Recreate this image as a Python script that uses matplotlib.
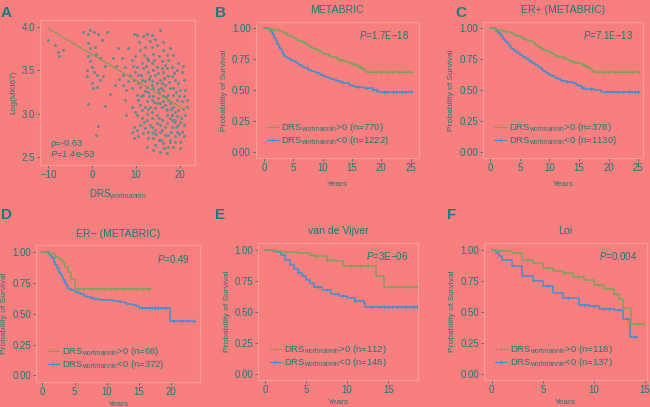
import numpy as np
import matplotlib
matplotlib.use('Agg')
import matplotlib.pyplot as plt
from matplotlib.lines import Line2D

plt.rcParams['font.family'] = ['Liberation Sans', 'DejaVu Sans']
plt.rcParams['mathtext.fontset'] = 'custom'
plt.rcParams['mathtext.rm'] = 'Liberation Sans'
plt.rcParams['mathtext.it'] = 'Liberation Sans:italic'

BG = '#F7807F'
TXT = '#167B7A'
FRAME = '#F59C9A'
GREEN = '#7AA35A'
BLUE = '#3E8FD2'
DOT = '#6A8A90'

################ Data ################
# Panel A: scatter of DRS_wortmannin vs Log(MKI67)
drs = [-10.0, -8.5, -7.9, -7.5, -6.6, -2.0, -0.9, -0.5, 0.5, 1.4, 3.4, -0.9, -0.5, 0.6, 0.9,
       -0.9, 1.8, 0.0, -1.1, 0.4, -1.1, -0.1, 0.1, 1.0, 1.8, 2.5, -0.9, 1.2, 0.9, 2.9,
       4.0, 5.2, 4.8, 5.9, 6.7, 7.5, 8.2, 9.0, 9.4, 10.1, 11.6, 12.4, 13.5, 15.4, 10.9,
       12.0, 13.5, 14.7, 16.2, 17.0, 18.5, 9.7, 10.1, 11.3, 12.4, 13.9, 15.1, 15.8, 16.6, 17.3,
       18.1, 19.2, 20.4, 21.1, 21.5, 20.0, 18.9, 17.3, 16.2, 14.7, 13.5, 11.6, 10.5, 9.4, 8.2,
       7.1, 7.8, 9.0, 10.1, 10.9, 12.0, 13.2, 14.3, 15.4, 16.6, 17.7, 18.5, 19.2, 20.4, 19.6,
       18.5, 17.3, 16.2, 15.1, 13.9, 12.8, 11.6, 10.5, 12.4, 13.5, 14.7, 15.8, 17.0, 18.1, 18.9,
       20.0, 20.8, 20.4, 19.2, 18.1, 17.0, 15.8, 14.7, 13.5, 12.4, 11.3, 10.1, 9.0, 7.8, 7.5,
       9.4, 10.9, 12.0, 13.2, 14.3, 15.4, 16.6, 17.7, 18.9, 20.0, 17.3, 16.2, 15.1, 13.9, 12.8,
       11.6, 10.5, 9.4, 12.4, 13.9, 15.4, 17.0, 18.5, 20.0, 14.3, 17.7, 18.9, 16.6, 15.4, 15.1,
       13.9, 16.2, 17.3, 19.6, 20.8, 18.1, 17.0, 15.8, 13.9, 12.8, 14.7, 13.5, 12.4, 11.3, 15.4,
       16.6, 17.7, 18.9, 14.3, 13.2, 12.0, 10.9, 9.7, 17.0, 18.1, 19.6, 20.8, 21.5, 21.1, 12.4,
       13.5, 14.7, 15.8, 11.3, 10.1, 9.0, 12.8, 13.9,
       11.0, 12.2, 13.0, 14.0, 14.9, 15.6, 16.4, 17.5, 18.3, 19.0, 19.8, 20.6, 19.4, 18.6, 17.6,
       16.8, 16.0, 15.0, 14.0, 13.0, 12.0, 11.0, 10.4, 9.8, 9.2, 8.6, 11.8, 12.6, 13.6, 14.6,
       15.6, 16.4, 17.2, 18.0, 19.0, 19.8, 20.2, 17.9, 16.9, 15.9, 14.9, 13.7, 12.7, 11.7, 10.6,
       13.1, 14.2, 16.0, 17.6, 19.5, 20.7, 21.0, 18.7, 7.0, 6.2, 5.5, 3.0, 2.2, 1.0, -0.5]
mki67 = [3.85, 3.79, 3.71, 3.66, 3.73, 3.94, 3.92, 3.96, 3.94, 3.92, 3.94, 3.81, 3.75, 3.77, 3.69,
         3.66, 3.64, 3.54, 3.50, 3.48, 3.43, 3.35, 3.29, 3.31, 3.39, 3.43, 3.11, 2.86, 2.76, 3.09,
         3.23, 3.33, 3.64, 3.75, 3.64, 3.54, 3.75, 3.62, 3.92, 3.90, 3.89, 3.92, 3.90, 3.96, 3.73,
         3.77, 3.77, 3.79, 3.73, 3.67, 3.67, 3.66, 3.54, 3.58, 3.64, 3.69, 3.66, 3.60, 3.56, 3.62,
         3.54, 3.50, 3.48, 3.27, 3.08, 3.27, 3.39, 3.43, 3.48, 3.54, 3.58, 3.52, 3.45, 3.39, 3.37,
         3.33, 3.27, 3.29, 3.22, 3.31, 3.37, 3.43, 3.45, 3.39, 3.33, 3.29, 3.22, 3.16, 3.14, 3.04,
         3.08, 3.16, 3.20, 3.25, 3.29, 3.25, 3.22, 3.16, 3.14, 3.16, 3.12, 3.08, 3.04, 2.99, 2.93,
         2.91, 2.87, 2.79, 2.79, 2.85, 2.89, 2.93, 2.99, 3.02, 3.00, 3.04, 2.99, 3.08, 2.99, 3.16,
         2.85, 2.87, 2.83, 2.87, 2.81, 2.79, 2.76, 2.70, 2.74, 2.68, 2.62, 2.66, 2.70, 2.72, 2.72,
         2.78, 2.74, 2.72, 2.62, 2.58, 2.56, 2.55, 2.62, 2.60, 2.64, 2.68, 2.67, 2.85, 2.87, 2.95,
         3.20, 3.27, 3.22, 3.35, 3.39, 3.43, 3.52, 3.52, 3.50, 3.48, 3.35, 3.33, 3.31, 3.39, 3.12,
         3.10, 3.12, 3.02, 3.06, 3.08, 3.08, 3.10, 3.02, 2.99, 2.93, 2.87, 2.74, 3.16, 2.99, 2.93,
         2.95, 2.89, 2.81, 2.95, 2.81, 2.79, 2.79, 2.78,
         3.45, 3.55, 3.40, 3.62, 3.47, 3.30, 3.41, 3.36, 3.30, 3.25, 3.20, 3.05, 2.97, 2.90, 2.95,
         3.05, 3.14, 3.18, 3.13, 3.20, 3.26, 3.20, 3.35, 3.48, 3.55, 3.45, 2.90, 3.05, 2.85, 2.77,
         2.70, 2.60, 2.75, 2.79, 2.85, 2.77, 2.95, 3.05, 3.19, 3.35, 3.28, 3.38, 3.62, 3.68, 3.82,
         3.84, 3.86, 3.82, 3.76, 3.58, 3.55, 3.20, 3.47, 3.45, 3.40, 3.55, 3.55, 3.85, 3.45, 3.60]
fit_x = [-10, 21]
fit_y = [3.98, 3.05]

# Kaplan-Meier curves: (times, survival) for DRS>0 (hi) and DRS<0 (lo), censor times (c)
b_hi_t = [0, 0.5, 1, 1.5, 2, 2.5, 3, 3.5, 4, 4.5, 5, 5.5, 6, 6.5, 7, 7.5, 8, 8.5, 9, 9.5, 10,
          10.5, 11, 11.5, 12, 12.5, 13, 13.5, 14, 14.5, 15, 15.5, 16, 16.5, 17, 17.3, 25.2]
b_hi_s = [1.0, 1.0, 0.995, 0.99, 0.985, 0.98, 0.973, 0.962, 0.95, 0.935, 0.92, 0.91, 0.9, 0.89,
          0.878, 0.86, 0.843, 0.835, 0.825, 0.81, 0.797, 0.79, 0.78, 0.772, 0.765, 0.755, 0.743,
          0.737, 0.73, 0.723, 0.716, 0.703, 0.689, 0.678, 0.66, 0.649, 0.649]
b_hi_c = [13, 15, 16.5, 18, 19, 20, 21, 22, 23, 24, 25]
b_lo_t = [0, 0.5, 1, 1.25, 1.5, 1.75, 2, 2.25, 2.5, 2.75, 3, 3.25, 3.5, 3.75, 4, 4.5, 5, 5.5, 6,
          6.5, 7, 7.5, 8, 8.5, 9, 9.5, 10, 10.5, 11, 11.5, 12, 12.5, 13, 13.5, 14, 14.5, 15, 15.5,
          16, 17, 18.5, 19.5, 25.2]
b_lo_s = [1.0, 1.0, 0.99, 0.97, 0.95, 0.925, 0.9, 0.875, 0.85, 0.83, 0.81, 0.795, 0.78, 0.768,
          0.757, 0.745, 0.735, 0.72, 0.705, 0.69, 0.676, 0.666, 0.657, 0.647, 0.636, 0.625, 0.614,
          0.606, 0.598, 0.59, 0.581, 0.573, 0.565, 0.56, 0.554, 0.543, 0.532, 0.528, 0.525, 0.52,
          0.505, 0.484, 0.484]
b_lo_c = [16, 17.5, 18.5, 19, 20.5, 21, 22, 22.5, 23.5, 24, 25]

c_hi_t = [0, 0.5, 1, 1.5, 2, 2.5, 3, 3.5, 4, 4.5, 5, 5.5, 6, 6.5, 7, 7.5, 8, 8.5, 9, 9.5, 10,
          10.5, 11, 11.5, 12, 12.5, 13, 13.5, 14, 14.5, 15, 15.5, 16, 16.5, 17, 17.3, 25.2]
c_hi_s = [1.0, 1.0, 0.99, 0.985, 0.98, 0.975, 0.968, 0.96, 0.95, 0.94, 0.927, 0.916, 0.905, 0.896,
          0.887, 0.867, 0.847, 0.836, 0.825, 0.815, 0.806, 0.793, 0.78, 0.772, 0.765, 0.755, 0.745,
          0.738, 0.73, 0.724, 0.718, 0.706, 0.694, 0.682, 0.665, 0.651, 0.651]
c_hi_c = [14, 16, 18, 19, 20, 21, 22, 23, 24, 25]
c_lo_t = [0, 1, 1.25, 1.5, 1.75, 2, 2.25, 2.5, 2.75, 3, 3.25, 3.5, 3.75, 4, 4.5, 5, 5.5, 6, 6.5,
          7, 7.5, 8, 8.5, 9, 9.5, 10, 10.5, 11, 11.5, 12, 12.5, 13, 14, 14.5, 15, 15.5, 16, 17.5,
          18.7, 25.2]
c_lo_s = [1.0, 0.99, 0.975, 0.96, 0.944, 0.927, 0.913, 0.9, 0.887, 0.874, 0.86, 0.845, 0.832,
          0.82, 0.804, 0.788, 0.77, 0.753, 0.735, 0.718, 0.7, 0.685, 0.669, 0.653, 0.64, 0.626,
          0.613, 0.6, 0.589, 0.578, 0.571, 0.565, 0.556, 0.543, 0.53, 0.52, 0.51, 0.505, 0.484,
          0.484]
c_lo_c = [1, 13, 15.5, 17, 19.5, 20.5, 21.5, 22.5, 23.5, 24.5, 25]

d_hi_t = [0, 1.2, 2, 2.5, 3, 3.5, 4, 4.5, 5, 16.7]
d_hi_s = [1.0, 0.98, 0.96, 0.94, 0.92, 0.88, 0.84, 0.78, 0.70, 0.70]
d_hi_c = [5.5, 6.5, 7.5, 8.5, 9.5, 10.5, 11.5, 12.5, 13.5, 14.5, 15.5, 16.5]
d_lo_t = [0, 0.8, 1, 1.25, 1.5, 1.75, 2, 2.25, 2.5, 2.75, 3, 3.25, 3.5, 3.75, 4, 4.5, 5, 5.5, 6,
          6.5, 7, 7.5, 8, 9, 10, 11, 12, 13, 14, 14.5, 15, 19.8, 23.5]
d_lo_s = [1.0, 0.99, 0.98, 0.965, 0.946, 0.92, 0.89, 0.865, 0.84, 0.82, 0.797, 0.77, 0.743, 0.72,
          0.70, 0.688, 0.676, 0.666, 0.657, 0.646, 0.635, 0.628, 0.62, 0.614, 0.608, 0.601, 0.595,
          0.58, 0.568, 0.558, 0.549, 0.44, 0.44]
d_lo_c = [15.5, 16, 16.5, 17, 17.5, 18, 18.5, 19, 20.5, 21.5, 22.5, 23.5]

e_hi_t = [0, 1, 2, 4, 5.5, 6, 7.5, 8.5, 9.5, 13.5, 14.5, 18.5]
e_hi_s = [1.0, 0.99, 0.98, 0.97, 0.96, 0.946, 0.92, 0.906, 0.866, 0.785, 0.70, 0.70]
e_hi_c = [5.5, 6.2, 7.5, 8, 10.5, 11.5, 12.5, 15.5, 17, 17.5, 18.5]
e_lo_t = [0, 1, 1.5, 2, 2.5, 3, 3.5, 4, 4.5, 5, 5.5, 6, 7, 8, 9, 10, 11, 12, 12.2, 18.5]
e_lo_s = [1.0, 0.99, 0.98, 0.96, 0.92, 0.879, 0.845, 0.812, 0.785, 0.758, 0.73, 0.70, 0.672, 0.645,
          0.629, 0.61, 0.59, 0.57, 0.535, 0.535]
e_lo_c = [6.5, 7.5, 9.5, 11, 13, 14, 14.5, 15, 15.5, 16, 16.5, 17, 17.5, 18, 18.5]

f_hi_t = [0, 0.5, 1, 2, 3, 4, 5, 6, 7, 8, 9, 10, 11, 12, 12.5, 12.8, 13.6, 14.8]
f_hi_s = [1.0, 0.99, 0.987, 0.973, 0.92, 0.892, 0.852, 0.83, 0.81, 0.78, 0.758, 0.718, 0.683, 0.645,
          0.60, 0.53, 0.40, 0.40]
f_hi_c = [3.5, 5.5, 7, 8.5, 10.5, 12.2, 14.2, 14.8]
f_lo_t = [0, 0.4, 0.7, 1, 2, 3, 4, 5, 6, 7, 8.5, 9.5, 10.5, 12, 12.8, 13.5, 14.2]
f_lo_s = [1.0, 0.975, 0.946, 0.92, 0.866, 0.785, 0.745, 0.704, 0.651, 0.61, 0.556, 0.543, 0.52,
          0.516, 0.44, 0.30, 0.30]
f_lo_c = [5.5, 7.5, 9, 10, 11, 11.5, 12.5, 13.2, 14.0]

legend_n = {'B': (770, 1222), 'C': (378, 1130), 'D': (68, 372), 'E': (112, 148), 'F': (118, 137)}
pvals = {'B': '1.7E\u221218', 'C': '7.1E\u221213', 'D': '0.49', 'E': '3E\u221206', 'F': '0.004'}
titles = {'B': 'METABRIC', 'C': 'ER+ (METABRIC)', 'D': 'ER\u2212 (METABRIC)',
          'E': 'van de Vijver', 'F': 'Loi'}


################ Helpers ################
def style_ax(ax):
    ax.set_facecolor(BG)
    for sp in ax.spines.values():
        sp.set_color(FRAME)
        sp.set_linewidth(0.8)
    ax.tick_params(colors=TXT, labelsize=7, length=2, width=0.6, pad=1.5)
    for t in ax.get_xticklabels() + ax.get_yticklabels():
        t.set_color(TXT)


def step_val(t, s, x):
    idx = np.searchsorted(t, x, side='right') - 1
    return np.asarray(s)[idx]


def km_panel(ax, key, hi, lo, xlim, xticks, xlabelpad=6):
    for (t, s, c), col in ((lo, BLUE), (hi, GREEN)):
        ax.step(t, s, where='post', color=col, lw=1.1)
        ax.plot(c, step_val(t, s, c), '+', color=col, ms=3, mew=0.6, ls='none')
    ax.set_xlim(*xlim)
    ax.set_ylim(-0.05, 1.055)
    ax.set_xticks(xticks)
    ax.set_yticks([0, 0.25, 0.5, 0.75, 1.0])
    ax.set_yticklabels(['0.00', '0.25', '0.50', '0.75', '1.00'])
    ax.set_title(titles[key], color=TXT, fontsize=7.6, pad=6)
    ax.set_ylabel('Probability of Survival', color=TXT, fontsize=6.0, labelpad=3)
    ax.set_xlabel('Years', color=TXT, fontsize=6.0, labelpad=xlabelpad)
    ax.text(0.94, 0.9, r'$\mathit{P}$=' + pvals[key], transform=ax.transAxes,
            ha='right', va='center', color=TXT, fontsize=7)
    n_hi, n_lo = legend_n[key]
    handles = [Line2D([], [], color=GREEN, lw=0.8, marker='+', ms=3, mew=0.6),
               Line2D([], [], color=BLUE, lw=0.8, marker='+', ms=3, mew=0.6)]
    labels = [r'DRS$_{\mathregular{wortmannin}}$>0 (n=%d)' % n_hi,
              r'DRS$_{\mathregular{wortmannin}}$<0 (n=%d)' % n_lo]
    leg = ax.legend(handles, labels, loc='lower left', bbox_to_anchor=(0.03, 0.03),
                    frameon=False, fontsize=6.8, handlelength=1.2, handletextpad=0.3,
                    labelspacing=0.0, borderpad=0.2)
    for t in leg.get_texts():
        t.set_color(TXT)
    style_ax(ax)


################ Figure ################
fig = plt.figure(figsize=(6.5, 4.07), dpi=100)
fig.patch.set_facecolor(BG)

# Panel A
axA = fig.add_axes([0.0615, 0.5946, 0.2385, 0.3563])
axA.scatter(drs, mki67, s=5, color=DOT, linewidths=0, zorder=2)
axA.plot(fit_x, fit_y, color='#7F9A52', lw=0.8, zorder=3)
axA.set_xlim(-11.9, 23.4)
axA.set_ylim(2.41, 4.077)
axA.set_xticks([-10, 0, 10, 20])
axA.set_yticks([2.5, 3.0, 3.5, 4.0])
axA.set_ylabel('Log(MKI67)', color=TXT, fontsize=6.0, labelpad=3)
axA.set_xlabel(r'DRS$_{\mathregular{wortmannin}}$', color=TXT, fontsize=7, labelpad=5)
axA.text(0.065, 0.15, u'\u03c1=-0.63', transform=axA.transAxes,
         color=TXT, fontsize=6.8, va='center')
axA.text(0.065, 0.075, r'$\mathit{P}$=1.4e-53', transform=axA.transAxes,
         color=TXT, fontsize=6.8, va='center')
style_ax(axA)

axB = fig.add_axes([0.3934, 0.6118, 0.2512, 0.3349])
km_panel(axB, 'B', (b_hi_t, b_hi_s, b_hi_c), (b_lo_t, b_lo_s, b_lo_c), (-1.4, 26.4), [0, 5, 10, 15, 20, 25])

axC = fig.add_axes([0.7431, 0.6118, 0.2462, 0.3349])
km_panel(axC, 'C', (c_hi_t, c_hi_s, c_hi_c), (c_lo_t, c_lo_s, c_lo_c), (-1.2, 25.8), [0, 5, 10, 15, 20, 25])

axD = fig.add_axes([0.0554, 0.0622, 0.2523, 0.3359])
km_panel(axD, 'D', (d_hi_t, d_hi_s, d_hi_c), (d_lo_t, d_lo_s, d_lo_c), (-1.0, 24.5), [0, 5, 10, 15, 20], 3)

axE = fig.add_axes([0.3974, 0.0663, 0.2462, 0.3373])
km_panel(axE, 'E', (e_hi_t, e_hi_s, e_hi_c), (e_lo_t, e_lo_s, e_lo_c), (-0.8, 18.65), [0, 5, 10, 15], 3)

axF = fig.add_axes([0.7446, 0.0663, 0.2503, 0.3373])
km_panel(axF, 'F', (f_hi_t, f_hi_s, f_hi_c), (f_lo_t, f_lo_s, f_lo_c), (-0.75, 15.16), [0, 5, 10, 15], 3)

# panel letters
for letter, (x, y) in {'A': (0.001, 0.985), 'B': (0.331, 0.985), 'C': (0.7, 0.985),
                       'D': (0.001, 0.49), 'E': (0.331, 0.49), 'F': (0.688, 0.49)}.items():
    fig.text(x, y, letter, color=TXT, fontsize=11, fontweight='bold', va='top', ha='left')

fig.savefig('out.png', dpi=100, facecolor=BG)
